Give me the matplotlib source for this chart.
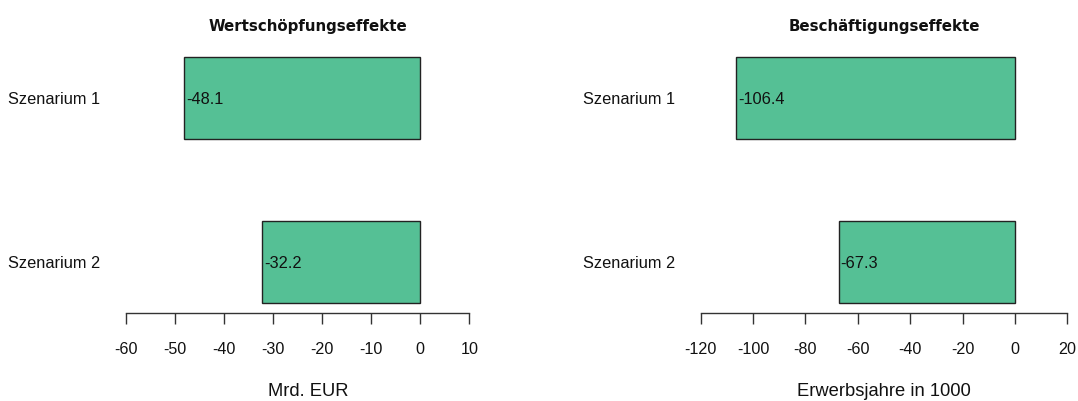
import matplotlib
matplotlib.use("Agg")
import matplotlib.pyplot as plt
import numpy as np

scenarios = ["Szenarium 1", "Szenarium 2"]
wertschoepfung = [-48.1, -32.2]
beschaeftigung = [-106.4, -67.3]
titles = ["Wertschöpfungseffekte", "Beschäftigungseffekte"]
xlabels = ["Mrd. EUR", "Erwerbsjahre in 1000"]
ticks_left = [-60, -50, -40, -30, -20, -10, 0, 10]
ticks_right = [-120, -100, -80, -60, -40, -20, 0, 20]

BAR_COLOR = "#55C095"
EDGE = "#222222"
AX_COLOR = "#333333"
FONT = "Liberation Sans"

W, H = 1078, 401
fig = plt.figure(figsize=(W / 100, H / 100), dpi=100)

def px_axes(x0, x1, ytop, ybot):
    return [x0 / W, (H - ybot) / H, (x1 - x0) / W, (ybot - ytop) / H]

panels = [
    (px_axes(125.7, 469.3, 46.7, 312.7), wertschoepfung, ticks_left, titles[0], xlabels[0], 0.531),
    (px_axes(700.7, 1067.3, 46.7, 312.7), beschaeftigung, ticks_right, titles[1], xlabels[1], 0.5),
]

for rect, vals, ticks, title, xlabel, cx in panels:
    ax = fig.add_axes(rect)
    pos = np.arange(len(scenarios)) * 2.0
    ax.barh(pos, vals, height=1.0, color=BAR_COLOR, edgecolor=EDGE, linewidth=1.0)
    ax.set_ylim(pos[-1] + 0.5 + 0.12, pos[0] - 0.5 - 0.12)
    ax.set_xlim(ticks[0], ticks[-1])
    for s in ["top", "right", "left"]:
        ax.spines[s].set_visible(False)
    ax.spines["bottom"].set_color(AX_COLOR)
    ax.spines["bottom"].set_linewidth(1.0)
    ax.spines["bottom"].set_bounds(ticks[0], ticks[-1])
    ax.set_xticks(ticks)
    ax.set_xticklabels([str(t) for t in ticks], fontfamily=FONT, fontsize=11.6)
    ax.tick_params(axis="x", length=7.6, width=1.0, color=AX_COLOR, pad=13.5, labelcolor="#111111")
    ax.set_yticks(pos)
    ax.set_yticklabels(scenarios, fontfamily=FONT, fontsize=11.8, va="center_baseline")
    ax.tick_params(axis="y", length=0, pad=18.5, labelcolor="#111111")
    for p, v in zip(pos, vals):
        ax.annotate(f"{v}", xy=(v, p), xytext=(1.2, 0), textcoords="offset points",
                    ha="left", va="center_baseline", fontfamily=FONT, fontsize=11.8,
                    color="#111111")
    ax.patch.set_visible(False)
    left_px = rect[0] * W
    width_px = rect[2] * W
    fig.text((left_px + cx * width_px) / W, (H - 26) / H, title, ha="center", va="center",
             fontfamily="DejaVu Sans", fontweight="bold", fontsize=10.8, color="#111111")
    fig.text((left_px + cx * width_px) / W, (H - 391) / H, xlabel, ha="center", va="center",
             fontfamily=FONT, fontsize=13.2, color="#111111")

fig.savefig("out.png", dpi=100)
